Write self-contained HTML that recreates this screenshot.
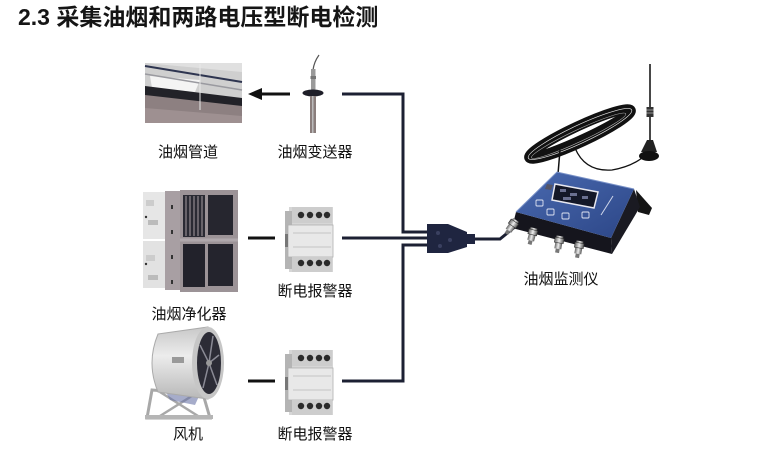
<!DOCTYPE html>
<html>
<head>
<meta charset="utf-8">
<style>
html,body{margin:0;padding:0;background:#fff;}
svg{display:block;}
.lbl{font-family:"Liberation Sans","Noto Sans CJK SC",sans-serif;font-size:15px;fill:#111;text-anchor:middle;}
.ttl{font-family:"Liberation Sans","Noto Sans CJK SC",sans-serif;font-size:23px;font-weight:bold;fill:#151515;}
</style>
</head>
<body>
<svg width="762" height="465" viewBox="0 0 762 465" xmlns="http://www.w3.org/2000/svg">
<defs>
<linearGradient id="blue" x1="0" y1="0" x2="1" y2="1">
<stop offset="0" stop-color="#4a6ab0"/><stop offset="1" stop-color="#2c4687"/>
</linearGradient>
<linearGradient id="silver" x1="0" y1="0" x2="1" y2="0">
<stop offset="0" stop-color="#666"/><stop offset="0.5" stop-color="#eee"/><stop offset="1" stop-color="#555"/>
</linearGradient>
<linearGradient id="drum" x1="0" y1="0" x2="0" y2="1">
<stop offset="0" stop-color="#c8c8c8"/><stop offset="0.4" stop-color="#ececec"/><stop offset="1" stop-color="#b8b8b8"/>
</linearGradient>
<g id="brk">
<rect x="4" y="0" width="44" height="65" fill="#d6d6d6"/>
<rect x="0" y="4" width="7" height="58" fill="#b4b4b4"/>
<rect x="7" y="0" width="40" height="16" fill="#cdcdcd"/>
<circle cx="16" cy="8" r="3.2" fill="#2a2a2a"/><circle cx="25" cy="8" r="3.2" fill="#2a2a2a"/>
<circle cx="34" cy="8" r="3.2" fill="#2a2a2a"/><circle cx="42" cy="8" r="3.2" fill="#2a2a2a"/>
<rect x="3" y="18" width="45" height="32" fill="#e8e8e8" stroke="#b0b0b0" stroke-width="0.8"/>
<line x1="8" y1="26" x2="46" y2="26" stroke="#c4c4c4"/>
<line x1="8" y1="40" x2="46" y2="40" stroke="#c4c4c4"/>
<rect x="0" y="27" width="3" height="13" fill="#777"/>
<rect x="7" y="50" width="40" height="15" fill="#cdcdcd"/>
<circle cx="16" cy="56" r="3.2" fill="#2a2a2a"/><circle cx="25" cy="56" r="3.2" fill="#2a2a2a"/>
<circle cx="34" cy="56" r="3.2" fill="#2a2a2a"/><circle cx="42" cy="56" r="3.2" fill="#2a2a2a"/>
</g>
<g id="conn">
<rect x="-3.5" y="0" width="7" height="13" fill="url(#silver)"/>
<rect x="-4.5" y="2" width="9" height="5" fill="url(#silver)" stroke="#333" stroke-width="0.6"/>
<rect x="-2" y="13" width="4" height="4" fill="#777"/>
</g>
</defs>

<!-- Title -->
<text class="ttl" x="18" y="25">2.3 采集油烟和两路电压型断电检测</text>

<!-- Duct photo -->
<rect x="145" y="63" width="97" height="60" fill="#cfcfcf"/>
<polygon points="145,63 242,63 242,72 145,63" fill="#e0e0e0"/>
<line x1="145" y1="66" x2="242" y2="82" stroke="#2e3550" stroke-width="2"/>
<polygon points="150,76 200,80 195,92 152,88" fill="#f4f4f4"/>
<line x1="145" y1="74" x2="242" y2="90" stroke="#9a9aa0" stroke-width="1.5"/>
<polygon points="145,88 242,100 242,123 145,123" fill="#8d8081"/>
<polygon points="145,86 242,98 242,106 145,95" fill="#222228"/>
<polygon points="145,108 242,116 242,123 145,123" fill="#9e9091"/>
<line x1="200" y1="64" x2="200" y2="110" stroke="#e8e8e8" stroke-width="1"/>

<!-- arrow -->
<line x1="260" y1="94" x2="290" y2="94" stroke="#111" stroke-width="3"/>
<polygon points="248,94 262,88 262,100" fill="#111"/>

<!-- transmitter -->
<path d="M319,55 Q314,62 313,70" stroke="#555" stroke-width="1.2" fill="none"/>
<rect x="311" y="69" width="4.5" height="24" fill="#9a9a9a"/>
<rect x="310.5" y="76" width="5.5" height="3" fill="#777"/>
<ellipse cx="313" cy="93" rx="10.5" ry="3.5" fill="#1e1e28"/>
<rect x="310" y="96" width="6" height="37" fill="#8a7e7c"/>
<rect x="312" y="96" width="1.5" height="37" fill="#bbb"/>

<!-- labels row 1 -->
<text class="lbl" x="188" y="157">油烟管道</text>
<text class="lbl" x="315" y="157">油烟变送器</text>

<!-- Purifier -->
<rect x="143" y="192" width="22" height="47" fill="#e6e6e6"/>
<rect x="143" y="241" width="22" height="47" fill="#e2e2e2"/>
<rect x="146" y="200" width="8" height="6" fill="#ccc"/><rect x="148" y="220" width="10" height="5" fill="#bbb"/>
<rect x="146" y="255" width="9" height="6" fill="#ccc"/><rect x="148" y="275" width="10" height="5" fill="#bbb"/>
<circle cx="146" cy="217" r="1.2" fill="#333"/><circle cx="146" cy="264" r="1.2" fill="#333"/>
<rect x="165" y="191" width="15" height="99" fill="#a89fa3"/>
<rect x="171" y="205" width="2" height="4" fill="#333"/><rect x="171" y="230" width="2" height="4" fill="#333"/>
<rect x="171" y="255" width="2" height="4" fill="#333"/><rect x="171" y="280" width="2" height="4" fill="#333"/>
<rect x="180" y="190" width="58" height="102" fill="#9c9397"/>
<rect x="183" y="195" width="22" height="42" fill="#2a2a33"/>
<g stroke="#8a8288" stroke-width="1.3">
<line x1="186" y1="196" x2="186" y2="236"/><line x1="190" y1="196" x2="190" y2="236"/>
<line x1="194" y1="196" x2="194" y2="236"/><line x1="198" y1="196" x2="198" y2="236"/>
<line x1="202" y1="196" x2="202" y2="236"/>
</g>
<rect x="208" y="195" width="25" height="40" fill="#26262f"/>
<rect x="183" y="244" width="22" height="43" fill="#22222b"/>
<rect x="208" y="244" width="25" height="42" fill="#24242d"/>
<line x1="180" y1="240" x2="238" y2="240" stroke="#b0a8ac" stroke-width="3"/>

<line x1="248" y1="238" x2="275" y2="238" stroke="#111" stroke-width="3"/>
<use href="#brk" x="285" y="207"/>

<text class="lbl" x="315" y="296">断电报警器</text>
<text class="lbl" x="189" y="319">油烟净化器</text>

<!-- Fan -->
<polygon points="152,390 203,394 210,418 147,418" fill="none" stroke="#a8a8a8" stroke-width="3"/>
<line x1="160" y1="392" x2="198" y2="416" stroke="#a8a8a8" stroke-width="2.5"/>
<line x1="195" y1="394" x2="160" y2="416" stroke="#a8a8a8" stroke-width="2.5"/>
<polygon points="165,390 200,394 195,405 170,400" fill="#6a74a6" opacity="0.6"/>
<rect x="145" y="415" width="68" height="4" fill="#b5b5b5"/>
<path d="M158,334 L208,327 L208,399 L158,392 Q146,363 158,334 Z" fill="url(#drum)" stroke="#aaa" stroke-width="1"/>
<ellipse cx="208" cy="363" rx="16" ry="36" fill="#c6c6c6"/>
<ellipse cx="209" cy="363" rx="12" ry="31" fill="#2c2c36"/>
<g stroke="#8a8a95" stroke-width="1.5">
<line x1="209" y1="363" x2="213" y2="336"/><line x1="209" y1="363" x2="219" y2="355"/>
<line x1="209" y1="363" x2="217" y2="385"/><line x1="209" y1="363" x2="203" y2="388"/>
<line x1="209" y1="363" x2="200" y2="345"/>
</g>
<circle cx="209" cy="363" r="3" fill="#999"/>
<rect x="172" y="357" width="12" height="6" fill="#999"/>

<line x1="248" y1="381" x2="275" y2="381" stroke="#111" stroke-width="3"/>
<use href="#brk" x="285" y="350"/>

<text class="lbl" x="188" y="439">风机</text>
<text class="lbl" x="315" y="439">断电报警器</text>

<!-- wiring -->
<g stroke="#1c2033" stroke-width="3" fill="none">
<polyline points="342,94 403,94 403,232 427,232"/>
<line x1="342" y1="238" x2="427" y2="238"/>
<polyline points="342,381 403,381 403,245 427,245"/>
<polyline points="475,239 500,239 516,226"/>
</g>
<!-- connector -->
<polygon points="427,224 448,224 467,232 467,247 448,253 427,253" fill="#1f2540"/>
<rect x="466" y="234" width="9" height="10" fill="#1f2540"/>
<g fill="#3a4060"><circle cx="438" cy="233" r="2"/><circle cx="450" cy="240" r="2"/><circle cx="440" cy="246" r="2"/></g>

<!-- antenna -->
<line x1="650" y1="64" x2="650" y2="142" stroke="#333" stroke-width="1.8"/>
<rect x="646.5" y="107" width="7" height="10" fill="#333"/>
<line x1="646.5" y1="110" x2="653.5" y2="110" stroke="#aaa" stroke-width="0.8"/>
<line x1="646.5" y1="113" x2="653.5" y2="113" stroke="#aaa" stroke-width="0.8"/>
<path d="M647,140 L653,140 L657,152 L641,152 Z" fill="#222"/>
<ellipse cx="649" cy="156" rx="10" ry="5" fill="#111"/>

<!-- cable coil -->
<g transform="rotate(-25 580 134)" fill="none">
<ellipse cx="580" cy="134" rx="56" ry="8" stroke="#111" stroke-width="10"/>
<ellipse cx="582" cy="133" rx="50" ry="5" stroke="#111" stroke-width="6"/>
<ellipse cx="580" cy="134" rx="57" ry="9" stroke="#e6e6e6" stroke-width="0.7"/>
<ellipse cx="578" cy="135" rx="52" ry="6" stroke="#aaa" stroke-width="0.6"/>
</g>
<path d="M560,150 L558,174" stroke="#111" stroke-width="1.5" fill="none"/>
<path d="M575,148 Q585,172 612,170 Q630,167 642,158" stroke="#111" stroke-width="1.3" fill="none"/>

<!-- device -->
<polygon points="636,190 652,208 649,215 638,212" fill="#151515"/>
<polygon points="634,189 640,207 612,254 611,238" fill="#1a1a22"/>
<polygon points="516,212 611,238 612,254 512,228" fill="#15151d"/>
<polygon points="557,172 634,189 611,238 516,212" fill="url(#blue)"/>
<polyline points="516,212 557,172 634,189" fill="none" stroke="#7a92c8" stroke-width="1"/>
<polygon points="555,184 598,192 594,208 552,200" fill="#141828" stroke="#e8e8f0" stroke-width="1.5"/>
<g fill="#6a7090"><rect x="560" y="189" width="6" height="3"/><rect x="570" y="193" width="7" height="3"/><rect x="582" y="196" width="6" height="3"/><rect x="563" y="197" width="8" height="3"/></g>
<polygon points="547,184 553,185 551,190 545,189" fill="#556"/>
<line x1="601" y1="215" x2="613" y2="196" stroke="#cfd6ea" stroke-width="1"/>
<g fill="none" stroke="#dfe4f2" stroke-width="0.9">
<rect x="536" y="200" width="7" height="6" rx="1"/>
<rect x="547" y="209" width="7" height="6" rx="1"/>
<rect x="562" y="213" width="7" height="6" rx="1"/>
<rect x="582" y="212" width="7" height="6" rx="1"/>
</g>
<use href="#conn" transform="translate(516,220) rotate(35)"/>
<use href="#conn" transform="translate(534,228) rotate(15)"/>
<use href="#conn" transform="translate(560,236) rotate(10)"/>
<use href="#conn" transform="translate(580,241) rotate(10)"/>

<text class="lbl" x="561" y="284">油烟监测仪</text>
</svg>
</body>
</html>
